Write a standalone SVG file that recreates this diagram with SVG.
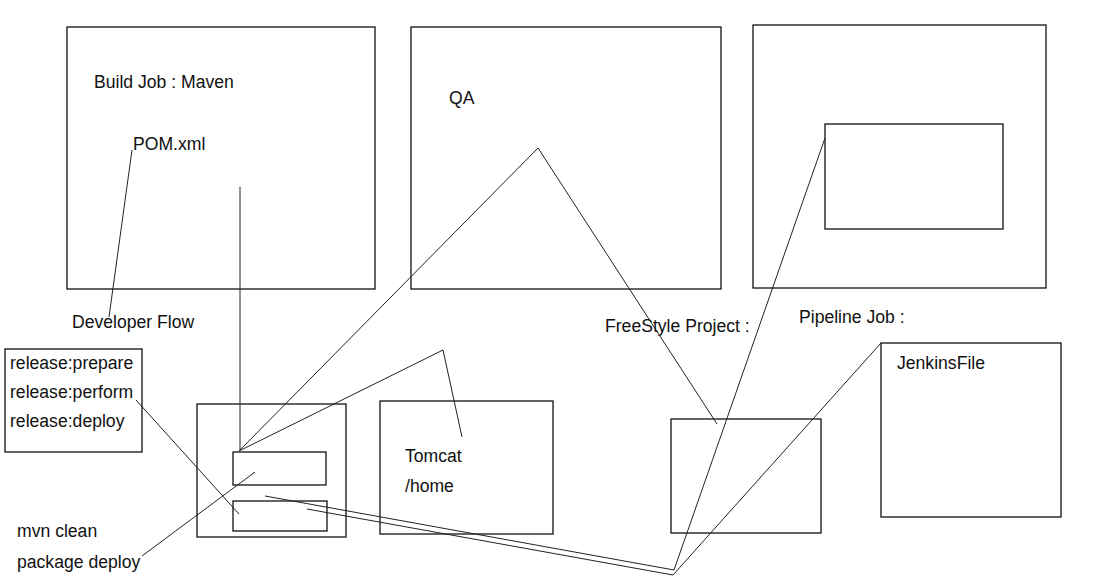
<svg xmlns="http://www.w3.org/2000/svg" width="1114" height="588" viewBox="0 0 1114 588">
<style>
.box{fill:none;stroke:#111;stroke-width:1.3}
.ln{fill:none;stroke:#222;stroke-width:1}
.t{font-family:"Liberation Sans",Arial,Helvetica,sans-serif;font-size:17.6px;fill:#111}
</style>
<rect width="1114" height="588" fill="#fff"/>
<g id="build-job">
<rect class="box" x="67" y="27" width="308" height="262"/>
<text class="t" x="94" y="88">Build Job : Maven</text>
<text class="t" x="133" y="150">POM.xml</text>
</g>
<g id="qa">
<rect class="box" x="411" y="27" width="310" height="262"/>
<text class="t" x="449" y="104">QA</text>
</g>
<g id="pipeline-outer">
<rect class="box" x="753" y="25" width="293" height="263"/>
<rect class="box" x="825" y="124" width="178" height="105"/>
</g>
<g id="developer-flow">
<text class="t" x="72" y="328">Developer Flow</text>
</g>
<g id="release">
<rect class="box" x="5" y="349" width="137" height="103"/>
<text class="t" x="10" y="369">release:prepare</text>
<text class="t" x="10" y="398">release:perform</text>
<text class="t" x="10" y="427">release:deploy</text>
</g>
<g id="server">
<rect class="box" x="197" y="404" width="149" height="133"/>
<rect class="box" x="233" y="452" width="93" height="33"/>
<rect class="box" x="233" y="501" width="94" height="30"/>
</g>
<g id="tomcat">
<rect class="box" x="380" y="401" width="173" height="133"/>
<text class="t" x="405" y="462">Tomcat</text>
<text class="t" x="405" y="492">/home</text>
</g>
<g id="mvn">
<text class="t" x="17" y="537">mvn clean</text>
<text class="t" x="17" y="568">package deploy</text>
</g>
<g id="freestyle">
<text class="t" x="605" y="332">FreeStyle Project :</text>
<rect class="box" x="671" y="419" width="150" height="114"/>
</g>
<g id="pipeline-job">
<text class="t" x="799" y="323">Pipeline Job :</text>
</g>
<g id="jenkinsfile">
<rect class="box" x="881" y="343" width="180" height="174"/>
<text class="t" x="897" y="369">JenkinsFile</text>
</g>
<g id="connectors">
<polyline class="ln" points="132,150 109,317"/>
<polyline class="ln" points="240,187 240,450"/>
<polyline class="ln" points="239,451 538,148 717,424"/>
<polyline class="ln" points="239,451 443,350 462,437"/>
<polyline class="ln" points="136,400 239,514"/>
<polyline class="ln" points="142,556 255,472"/>
<polyline class="ln" points="265,496 674,570 825,138"/>
<polyline class="ln" points="307,509 673,575 881,343"/>
</g>
</svg>
